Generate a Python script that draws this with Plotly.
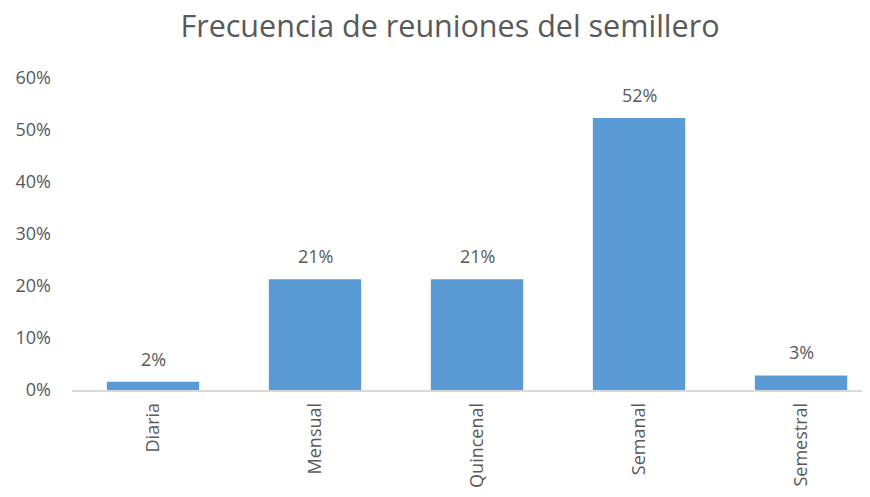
import plotly.graph_objects as go

categories = ["Diaria", "Mensual", "Quincenal", "Semanal", "Semestral"]
values = [0.016, 0.213, 0.213, 0.523, 0.028]
y_ticks = [0, 0.1, 0.2, 0.3, 0.4, 0.5, 0.6]
y_tick_labels = ["0%", "10%", "20%", "30%", "40%", "50%", "60%"]

FONT = "Open Sans"
GREY = "#595959"

fig = go.Figure(go.Bar(
    x=categories, y=values,
    marker=dict(color="#5B9BD5", line=dict(width=0)),
    width=0.57,
    hoverinfo="x+y",
))

for c, v in zip(categories, values):
    fig.add_annotation(x=c, y=v, text=f"{round(v*100)}%", showarrow=False,
                       yanchor="bottom", yshift=9,
                       font=dict(size=18, color=GREY, family=FONT))

fig.update_layout(
    width=870, height=497,
    margin=dict(l=64, r=0, t=70, b=115),
    plot_bgcolor="white", paper_bgcolor="white",
    title=dict(text="Frecuencia de reuniones del semillero",
               font=dict(size=30.5, color=GREY, family=FONT),
               x=0.508, xanchor="center", y=0.963, yanchor="middle"),
    showlegend=False,
    xaxis=dict(range=[-0.5, 4.475], showline=True, linecolor="#D9D9D9", linewidth=1.5,
               ticks="", tickangle=-90, tickfont=dict(size=18, color=GREY, family=FONT),
               showgrid=False, fixedrange=True, ticklabelstandoff=4),
    yaxis=dict(range=[0, 0.6], tickvals=y_ticks, ticktext=y_tick_labels,
               showgrid=False, zeroline=False, showline=False, ticks="",
               tickfont=dict(size=18, color=GREY, family=FONT), ticklabelstandoff=20),
)

fig.write_html("out.html")
